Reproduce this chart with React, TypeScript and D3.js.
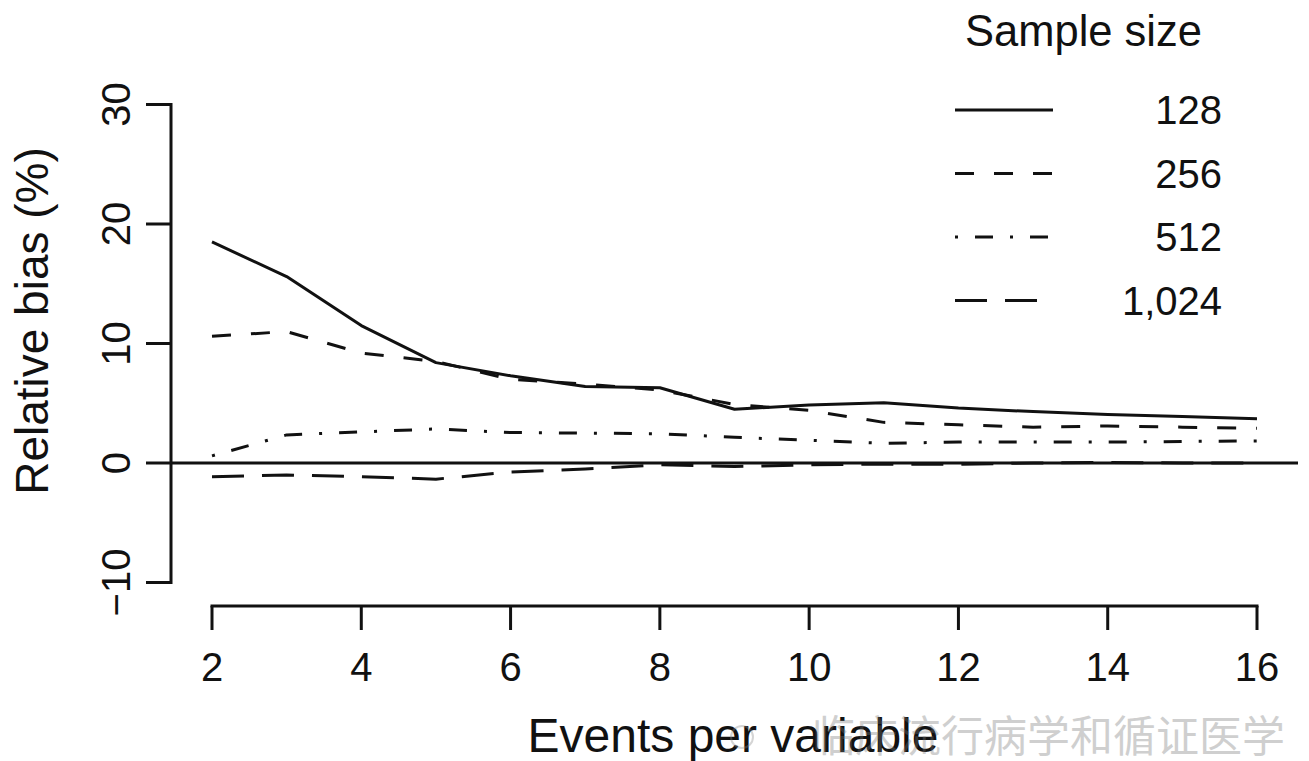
import React from 'react';
import * as d3 from 'd3';

const epv = [2, 3, 4, 5, 6, 7, 8, 9, 10, 11, 12, 13, 14, 15, 16];
const bias128 = [18.5, 15.6, 11.5, 8.4, 7.3, 6.4, 6.3, 4.5, 4.85, 5.05, 4.6, 4.3, 4.05, 3.9, 3.7];
const bias256 = [10.6, 11.0, 9.2, 8.5, 7.0, 6.6, 6.1, 4.9, 4.4, 3.4, 3.2, 3.0, 3.1, 3.0, 2.9];
const bias512 = [0.6, 2.35, 2.6, 2.85, 2.55, 2.5, 2.45, 2.15, 1.9, 1.65, 1.75, 1.75, 1.75, 1.8, 1.85];
const bias1024 = [-1.15, -1.0, -1.15, -1.35, -0.75, -0.5, -0.15, -0.3, -0.15, -0.1, -0.1, 0.0, 0.05, 0.0, 0.0];

const xTicks = [2, 4, 6, 8, 10, 12, 14, 16];
const yTicks = [-10, 0, 10, 20, 30];
const seriesLabels = ['128', '256', '512', '1,024'];
const seriesDash = ['none', '19,20', '3,17,18,17', '32,18'];
const seriesValues = [bias128, bias256, bias512, bias1024];

const FONT = '"Liberation Sans", Arial, Helvetica, sans-serif';
const INK = '#111';

export default function App() {
  const x = d3.scaleLinear().domain([2, 16]).range([212, 1257]);
  const y = d3.scaleLinear().domain([0, 30]).range([463, 104.5]);
  const line = d3
    .line<number>()
    .x((_, i) => x(epv[i]))
    .y((d) => y(d));

  const axisX = 171;
  const axisY = 606;

  return (
    <svg
      width={1309}
      height={761}
      style={{ position: 'absolute', left: 0, top: 0, background: '#fff' }}
      fontFamily={FONT}
    >
      <rect x={0} y={0} width={1309} height={761} fill="#fff" />
      {/* zero reference line */}
      <line x1={axisX} x2={1298} y1={y(0)} y2={y(0)} stroke={INK} strokeWidth={3} />

      {/* series */}
      {seriesValues.map((vals, i) => (
        <path
          key={i}
          d={line(vals) || ''}
          fill="none"
          stroke={INK}
          strokeWidth={3}
          strokeDasharray={seriesDash[i]}
          strokeLinejoin="round"
        />
      ))}

      {/* y axis */}
      <line x1={axisX} x2={axisX} y1={y(30)} y2={y(-10)} stroke={INK} strokeWidth={3} strokeLinecap="square" />
      {yTicks.map((t) => (
        <g key={t}>
          <line x1={146} x2={axisX} y1={y(t)} y2={y(t)} stroke={INK} strokeWidth={3} />
          <text
            transform={`translate(130,${y(t)}) rotate(-90)`}
            textAnchor="middle"
            fontSize={40}
            fill={INK}
          >
            {t < 0 ? '\u2212' + Math.abs(t) : String(t)}
          </text>
        </g>
      ))}
      <text transform="translate(48,321) rotate(-90)" textAnchor="middle" fontSize={46} fill={INK}>
        Relative bias (%)
      </text>

      {/* x axis */}
      <line x1={x(2)} x2={x(16)} y1={axisY} y2={axisY} stroke={INK} strokeWidth={3} strokeLinecap="square" />
      {xTicks.map((t) => (
        <g key={t}>
          <line x1={x(t)} x2={x(t)} y1={axisY} y2={630} stroke={INK} strokeWidth={3} />
          <text x={x(t)} y={681} textAnchor="middle" fontSize={40} fill={INK}>
            {t}
          </text>
        </g>
      ))}
      <text x={733} y={752} textAnchor="middle" fontSize={48} fill={INK}>
        Events per variable
      </text>

      {/* legend */}
      <text x={965} y={46} fontSize={43.5} fill={INK}>
        Sample size
      </text>
      {seriesLabels.map((lab, i) => {
        const ly = 110 + i * 63.5;
        return (
          <g key={lab}>
            <line x1={955} x2={1053} y1={ly} y2={ly} stroke={INK} strokeWidth={3} strokeDasharray={seriesDash[i]} />
            <text x={1222} y={ly + 14} textAnchor="end" fontSize={40} fill={INK}>
              {lab}
            </text>
          </g>
        );
      })}

      {/* watermark */}
      <g opacity={0.35}>
        <circle cx={742} cy={737} r={11} fill="none" stroke="#888" strokeWidth={2} />
        <text x={812} y={752} fontSize={43} fill="#777" fontFamily='"Noto Sans CJK SC", sans-serif'>
          临床流行病学和循证医学
        </text>
      </g>
    </svg>
  );
}
